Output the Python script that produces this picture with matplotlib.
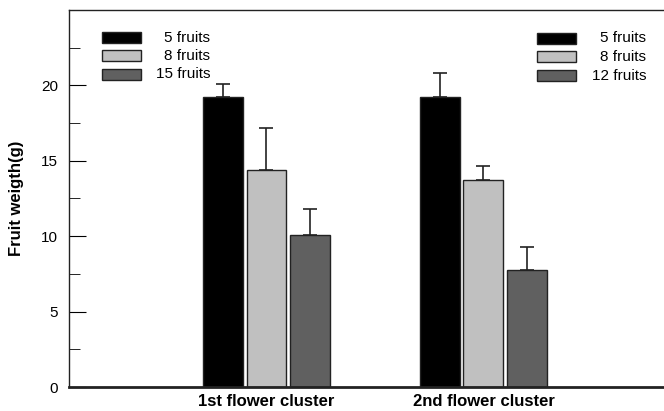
import numpy as np
import matplotlib.pyplot as plt
from matplotlib.patches import Rectangle
from matplotlib.ticker import FixedLocator

plt.rcParams['font.family'] = ['Liberation Sans', 'DejaVu Sans']

clusters = ['1st flower cluster', '2nd flower cluster']
colors = ['#000000', '#c0c0c0', '#606060']

# mean fruit weight and upper error for each fruit load
means_1st = [19.2, 14.4, 10.1]
err_1st = [0.9, 2.8, 1.7]
means_2nd = [19.2, 13.7, 7.75]
err_2nd = [1.65, 0.95, 1.55]
labels_1st = ['5 fruits', '8 fruits', '15 fruits']
labels_2nd = ['5 fruits', '8 fruits', '12 fruits']

fig = plt.figure(figsize=(6.64, 4.11), dpi=100)
ax = fig.add_axes([69/664, 24/411, 595/664, 377/411])

x = np.array([1.0, 2.0])
w = 0.184
step = 0.2
for j in range(3):
    vals = [means_1st[j], means_2nd[j]]
    errs = [err_1st[j], err_2nd[j]]
    ax.bar(x + (j - 1) * step, vals, width=w, color=colors[j],
           edgecolor='#222222', linewidth=1.0, zorder=2)
    ax.errorbar(x + (j - 1) * step, vals, yerr=[[0, 0], errs], fmt='none',
                ecolor='#222222', elinewidth=1.2, capsize=5, capthick=1.2, zorder=1)

ax.set_xlim(0.09, 2.832)
ax.set_ylim(0, 25)
ax.set_xticks(x)
ax.set_xticklabels(clusters, fontweight='bold', fontsize=12)
ax.tick_params(axis='x', length=0, pad=5)
ax.yaxis.set_major_locator(FixedLocator([0, 5, 10, 15, 20]))
ax.yaxis.set_minor_locator(FixedLocator([2.5, 7.5, 12.5, 17.5, 22.5]))
ax.tick_params(axis='y', which='major', direction='in', length=12, labelsize=11, pad=8)
ax.tick_params(axis='y', which='minor', direction='in', length=8)
ax.set_ylabel('Fruit weigth(g)', fontweight='bold', fontsize=12, labelpad=12)

ax.spines['right'].set_visible(False)
ax.spines['bottom'].set_linewidth(2.0)
ax.spines['top'].set_linewidth(1.0)
ax.spines['left'].set_linewidth(1.0)
for s in ax.spines.values():
    s.set_color('#222222')

# hand-built legends with right-aligned labels
def key_box(x0, y0, labels, text_right):
    for k, lab in enumerate(labels):
        yy = y0 + k * 18.5
        ax.add_patch(Rectangle(((x0 - 69) / 595, (376 - yy) / 377), 39 / 595, 11 / 377,
                               transform=ax.transAxes, facecolor=colors[k],
                               edgecolor='#222222', linewidth=1.0, clip_on=False))
        ax.text((text_right - 69) / 595, (381.5 - yy) / 377, lab,
                transform=ax.transAxes, ha='right', va='center', fontsize=11)

key_box(102, 32, labels_1st, 210)
key_box(537, 33, labels_2nd, 646)

fig.savefig('out.png', dpi=100)
